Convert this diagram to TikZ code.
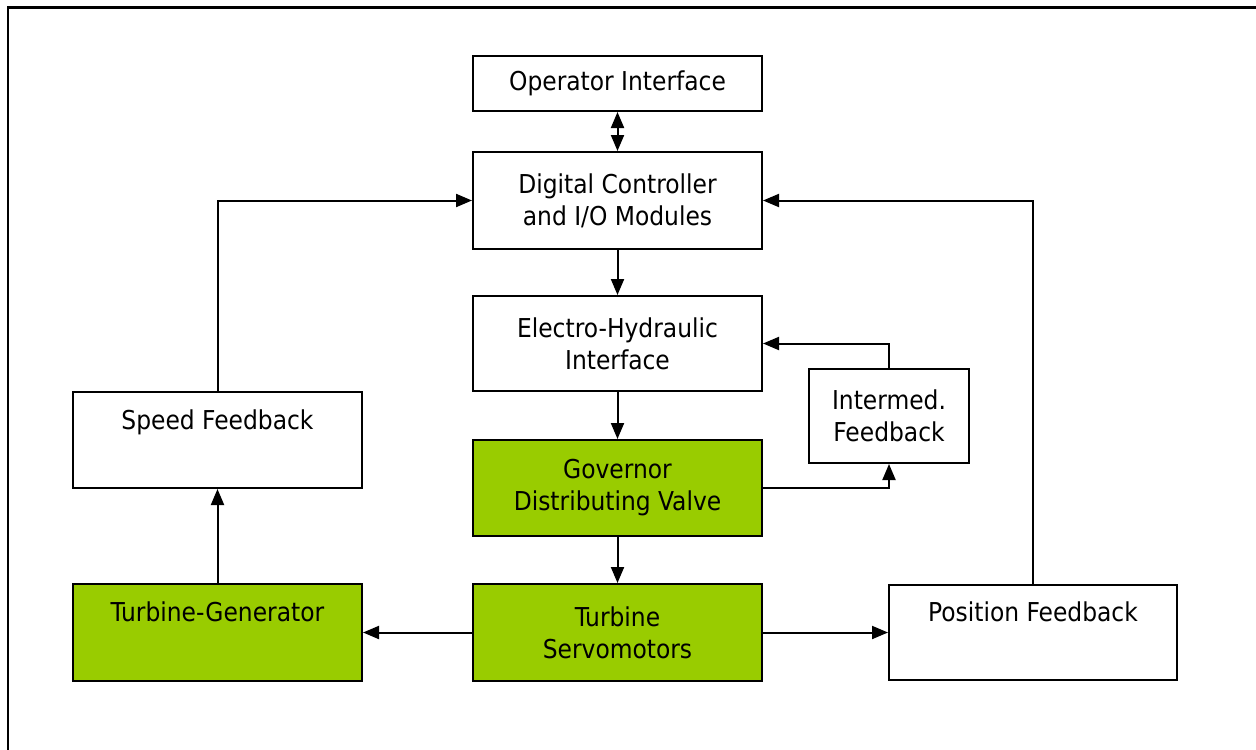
\documentclass[tikz,border=0pt]{standalone}
\usepackage{fontspec}
\setmainfont{DejaVu Sans Condensed}
\usetikzlibrary{arrows.meta}
\definecolor{ggreen}{HTML}{99CC00}
\begin{document}
\begin{tikzpicture}[x=0.5pt,y=-0.5pt,
  box/.style={draw=black, line width=1pt, fill=white, inner sep=0pt, align=center,
    font=\fontsize{13}{16}\selectfont},
  gbox/.style={box, fill=ggreen},
  arr/.style={line width=1pt, -{Triangle[length=8pt,width=6.5pt]}},
  arrboth/.style={line width=1pt, {Triangle[length=8pt,width=6.5pt]}-{Triangle[length=8pt,width=6.5pt]}},
  frame/.style={line width=1.3pt}]
\useasboundingbox (0,0) rectangle (1256,749);
\draw[frame] (8,760) -- (8,7.5) -- (1270,7.5);

\node[box, minimum width=144.5pt, minimum height=27.5pt] (oi) at (617.5,83.5) {Operator Interface};
\node[box, minimum width=144.5pt, minimum height=48.5pt] (dc) at (617.5,200.5) {Digital Controller\\and I/O Modules};
\node[box, minimum width=144.5pt, minimum height=47.5pt] (eh) at (617.5,343.5) {Electro-Hydraulic\\Interface};
\node[gbox, minimum width=144.5pt, minimum height=48pt] (gdv) at (617.5,488) {Governor\\Distributing Valve};
\node[gbox, minimum width=144.5pt, minimum height=48.5pt] (ts) at (617.5,632.5) {Turbine\\Servomotors};
\node[gbox, minimum width=144.5pt, minimum height=48.5pt] (tg) at (217.5,632.5) {Turbine-Generator\\\strut};
\node[box, minimum width=144.5pt, minimum height=48pt] (sf) at (217.5,440) {Speed Feedback\\\strut};
\node[box, minimum width=144pt, minimum height=47.5pt] (pf) at (1033,632.5) {Position Feedback\\\strut};
\node[box, minimum width=80pt, minimum height=47pt] (if) at (889,416) {Intermed.\\Feedback};

\draw[arrboth] (oi) -- (dc);
\draw[arr] (dc) -- (eh);
\draw[arr] (eh) -- (gdv);
\draw[arr] (gdv) -- (ts);
\draw[arr] (ts) -- (tg);
\draw[arr] (ts) -- (pf);
\draw[arr] (tg) -- (sf);
\draw[arr] (sf.north) |- (dc.west);
\draw[arr] (pf.north) |- (dc.east);
\draw[arr] (gdv.east) -| (if.south);
\draw[arr] (if.north) |- (eh.east);
\end{tikzpicture}
\end{document}
